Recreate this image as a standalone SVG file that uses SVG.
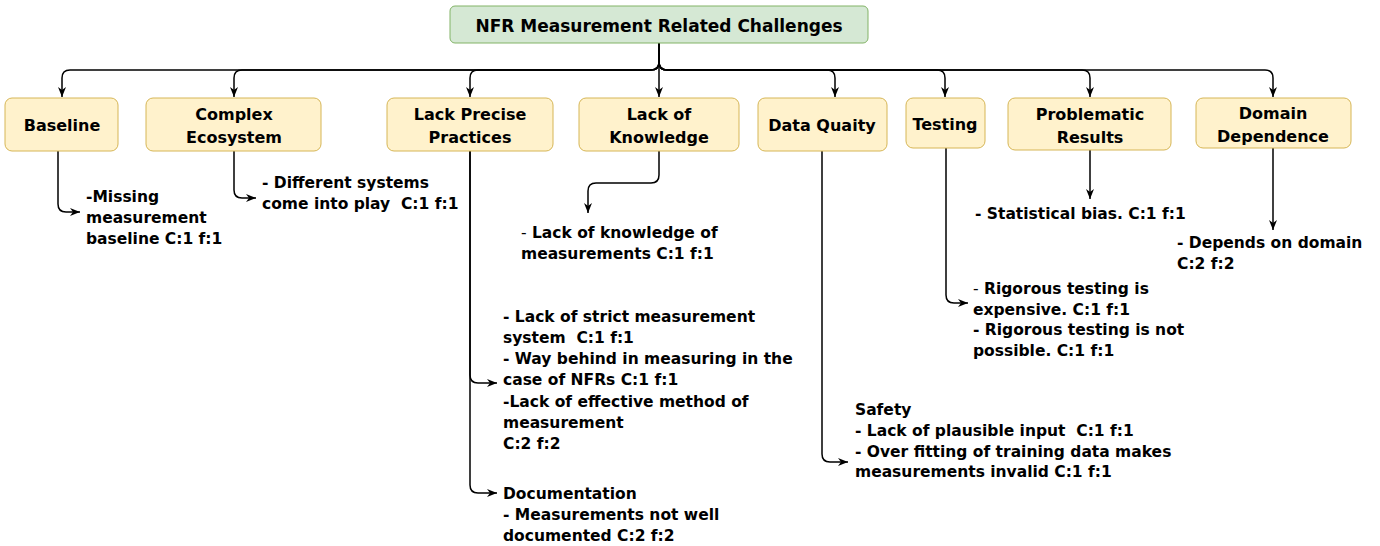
<svg xmlns="http://www.w3.org/2000/svg" width="1380" height="546" viewBox="0 0 1380 546">
<style>
text{font-family:"DejaVu Sans","Liberation Sans",sans-serif;font-weight:bold;fill:#000}
.root{fill:#d5e8d4;stroke:#82b366;stroke-width:1}
.box{fill:#fff2cc;stroke:#d6b656;stroke-width:1}
.lbl{font-size:16px;text-anchor:middle}
.ttl{font-size:17px;text-anchor:middle}
.det{font-size:15.5px}
.e{fill:none;stroke:#000;stroke-width:1.5;marker-end:url(#arr)}
.n{font-weight:normal}
</style>
<defs>
<marker id="arr" viewBox="0 0 10 10" refX="10" refY="5" markerWidth="10" markerHeight="10" markerUnits="userSpaceOnUse" orient="auto">
<path d="M0,1 L10,5 L0,9 L3,5 z" fill="#000"/>
</marker>
</defs>
<g id="connectors">
<path class="e" d="M659,43 L659,62 Q659,70 651,70 L70,70 Q62,70 62,78 L62,97"/>
<path class="e" d="M659,43 L659,62 Q659,70 651,70 L242,70 Q234,70 234,78 L234,97"/>
<path class="e" d="M659,43 L659,62 Q659,70 651,70 L478,70 Q470,70 470,78 L470,97"/>
<path class="e" d="M659,43 L659,97"/>
<path class="e" d="M659,43 L659,62 Q659,70 667,70 L827,70 Q835,70 835,78 L835,97"/>
<path class="e" d="M659,43 L659,62 Q659,70 667,70 L937,70 Q945,70 945,78 L945,97"/>
<path class="e" d="M659,43 L659,62 Q659,70 667,70 L1082,70 Q1090,70 1090,78 L1090,97"/>
<path class="e" d="M659,43 L659,62 Q659,70 667,70 L1265,70 Q1273,70 1273,78 L1273,97"/>
<path class="e" d="M58,151 L58,204 Q58,212 66,212 L80,212"/>
<path class="e" d="M234,151 L234,190 Q234,198 242,198 L256,198"/>
<path class="e" d="M470,151 L470,375 Q470,383 478,383 L497,383"/>
<path class="e" d="M470,151 L470,485 Q470,493 478,493 L497,493"/>
<path class="e" d="M659,151 L659,175 Q659,183 651,183 L596,183 Q588,183 588,191 L588,213"/>
<path class="e" d="M822,151 L822,454 Q822,462 830,462 L848,462"/>
<path class="e" d="M946,148 L946,295 Q946,303 954,303 L968,303"/>
<path class="e" d="M1090,150 L1090,199"/>
<path class="e" d="M1273,148 L1273,230"/>
</g>
<g id="root">
<rect class="root" x="450" y="6" width="418" height="37" rx="5"/>
<text class="ttl" x="659" y="32">NFR Measurement Related Challenges</text>
</g>
<g id="baseline">
<rect class="box" x="5" y="98" width="113" height="53" rx="7"/>
<text class="lbl" x="62" y="131">Baseline</text>
</g>
<g id="complex">
<rect class="box" x="146" y="98" width="175" height="53" rx="7"/>
<text class="lbl" x="234" y="120">Complex</text>
<text class="lbl" x="234" y="143">Ecosystem</text>
</g>
<g id="lpp">
<rect class="box" x="387" y="98" width="166" height="53" rx="7"/>
<text class="lbl" x="470" y="120">Lack Precise</text>
<text class="lbl" x="470" y="143">Practices</text>
</g>
<g id="lok">
<rect class="box" x="579" y="98" width="160" height="53" rx="7"/>
<text class="lbl" x="659" y="120">Lack of</text>
<text class="lbl" x="659" y="143">Knowledge</text>
</g>
<g id="dq">
<rect class="box" x="758" y="98" width="129" height="53" rx="7"/>
<text class="lbl" x="822" y="131">Data Quaity</text>
</g>
<g id="testing">
<rect class="box" x="906" y="98" width="79" height="50" rx="7"/>
<text class="lbl" x="945" y="130">Testing</text>
</g>
<g id="problematic">
<rect class="box" x="1008" y="98" width="163" height="52" rx="7"/>
<text class="lbl" x="1090" y="120">Problematic</text>
<text class="lbl" x="1090" y="143">Results</text>
</g>
<g id="domain">
<rect class="box" x="1196" y="98" width="155" height="50" rx="7"/>
<text class="lbl" x="1273" y="119">Domain</text>
<text class="lbl" x="1273" y="142">Dependence</text>
</g>
<g id="baseline-detail">
<text class="det" x="86" y="202">-Missing</text>
<text class="det" x="86" y="223">measurement</text>
<text class="det" x="86" y="244">baseline C:1 f:1</text>
</g>
<g id="complex-detail">
<text class="det" x="262" y="188">- Different systems</text>
<text class="det" x="262" y="209" xml:space="preserve">come into play  C:1 f:1</text>
</g>
<g id="lok-detail">
<text class="det" x="521" y="238"><tspan class="n">-</tspan> Lack of knowledge of</text>
<text class="det" x="521" y="259">measurements C:1 f:1</text>
</g>
<g id="lpp-detail">
<text class="det" x="503" y="322">- Lack of strict measurement</text>
<text class="det" x="503" y="343" xml:space="preserve">system  C:1 f:1</text>
<text class="det" x="503" y="364">- Way behind in measuring in the</text>
<text class="det" x="503" y="385">case of NFRs C:1 f:1</text>
<text class="det" x="503" y="407">-Lack of effective method of</text>
<text class="det" x="503" y="428">measurement</text>
<text class="det" x="503" y="449">C:2 f:2</text>
</g>
<g id="doc-detail">
<text class="det" x="503" y="499">Documentation</text>
<text class="det" x="503" y="520">- Measurements not well</text>
<text class="det" x="503" y="541">documented C:2 f:2</text>
</g>
<g id="safety-detail">
<text class="det" x="855" y="415">Safety</text>
<text class="det" x="855" y="436" xml:space="preserve">- Lack of plausible input  C:1 f:1</text>
<text class="det" x="855" y="457">- Over fitting of training data makes</text>
<text class="det" x="855" y="477">measurements invalid C:1 f:1</text>
</g>
<g id="testing-detail">
<text class="det" x="973" y="294"><tspan class="n">-</tspan> Rigorous testing is</text>
<text class="det" x="973" y="315">expensive. C:1 f:1</text>
<text class="det" x="973" y="335">- Rigorous testing is not</text>
<text class="det" x="973" y="356">possible. C:1 f:1</text>
</g>
<g id="problematic-detail">
<text class="det" x="975" y="219">- Statistical bias. C:1 f:1</text>
</g>
<g id="domain-detail">
<text class="det" x="1177" y="248">- Depends on domain</text>
<text class="det" x="1177" y="269">C:2 f:2</text>
</g>
</svg>
